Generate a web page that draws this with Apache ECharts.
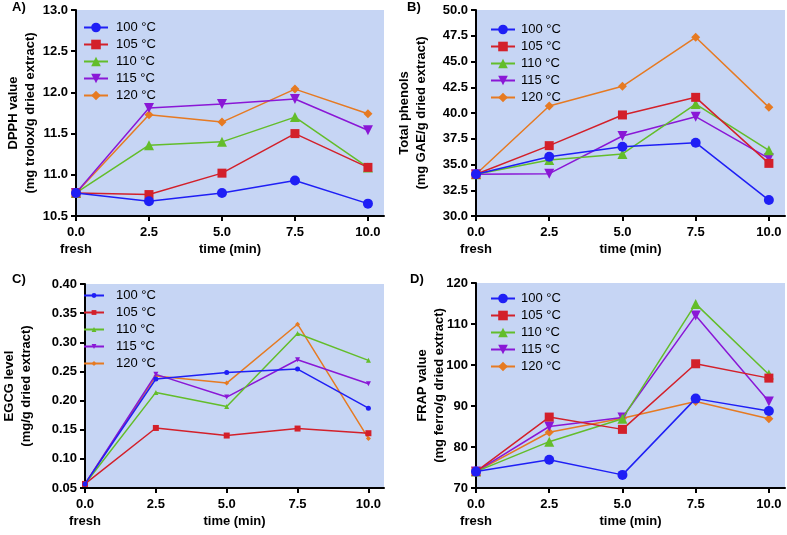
<!DOCTYPE html>
<html><head><meta charset="utf-8">
<script src="https://cdn.jsdelivr.net/npm/echarts@6/dist/echarts.min.js"></script>
<style>html,body{margin:0;padding:0;background:#fff}#c{width:787px;height:535px}</style>
</head><body><div id="c"></div>
<script>
const times = [0, 2.5, 5, 7.5, 10];
const xTicks = [0, 2.5, 5, 7.5, 10];
const temps = ['100 °C', '105 °C', '110 °C', '115 °C', '120 °C'];

// Panel A: DPPH value
const dpph100 = [10.78, 10.68, 10.78, 10.93, 10.65];
const dpph105 = [10.78, 10.76, 11.02, 11.50, 11.09];
const dpph110 = [10.78, 11.36, 11.40, 11.70, 11.09];
const dpph115 = [10.78, 11.81, 11.86, 11.92, 11.54];
const dpph120 = [10.78, 11.73, 11.64, 12.04, 11.74];

// Panel B: Total phenols
const tp100 = [34.05, 35.76, 36.73, 37.12, 31.55];
const tp105 = [34.05, 36.83, 39.81, 41.52, 35.11];
const tp110 = [34.05, 35.44, 36.02, 40.87, 36.38];
const tp115 = [34.05, 34.11, 37.77, 39.64, 35.60];
const tp120 = [34.05, 40.68, 42.59, 47.35, 40.55];

// Panel C: EGCG level
const egcg100 = [0.057, 0.237, 0.248, 0.254, 0.187];
const egcg105 = [0.057, 0.153, 0.140, 0.152, 0.144];
const egcg110 = [0.057, 0.214, 0.190, 0.315, 0.269];
const egcg115 = [0.057, 0.245, 0.206, 0.270, 0.229];
const egcg120 = [0.057, 0.242, 0.230, 0.331, 0.135];

// Panel D: FRAP value
const frap100 = [74.0, 76.9, 73.2, 91.8, 88.8];
const frap105 = [74.0, 87.3, 84.3, 100.3, 96.8];
const frap110 = [74.0, 81.3, 86.9, 114.9, 97.7];
const frap115 = [74.0, 85.0, 87.2, 112.1, 91.1];
const frap120 = [74.0, 83.6, 87.0, 91.1, 86.9];

const panels = [
  {key:'A', data:[dpph100,dpph105,dpph110,dpph115,dpph120], min:10.5, max:13.0, interval:0.5, dec:1,
   name:'DPPH value\n(mg trolox/g dried extract)', nameGap:37,
   grid:{left:76, top:10, width:308, height:206}, legend:{left:83, top:21, w:24, h:12, pad:3}, big:true},
  {key:'B', data:[tp100,tp105,tp110,tp115,tp120], min:30, max:50, interval:2.5, dec:1,
   name:'Total phenols\n(mg GAE/g dried extract)', nameGap:46,
   grid:{left:476, top:10, width:309, height:206}, legend:{left:490, top:23, w:24, h:12, pad:1}, big:true},
  {key:'C', data:[egcg100,egcg105,egcg110,egcg115,egcg120], min:0.05, max:0.40, interval:0.05, dec:2,
   name:'EGCG level\n(mg/g dried extract)', nameGap:50,
   grid:{left:77, top:284, width:307, height:204}, legend:{left:83, top:289, w:20, h:6, pad:7}, big:false},
  {key:'D', data:[frap100,frap105,frap110,frap115,frap120], min:70, max:120, interval:10, dec:0,
   name:'FRAP value\n(mg ferro/g dried extract)', nameGap:28,
   grid:{left:476, top:283, width:309, height:205}, legend:{left:490, top:292, w:24, h:12, pad:1}, big:true}
];

const colors = ['#1f1ff5', '#d3202a', '#63bd2a', '#8a17d6', '#e67a22'];
const symbols = ['circle', 'rect', 'triangle', 'triangle', 'diamond'];
const rotates = [0, 0, 0, 180, 0];
const bigSizes = [10, 9, 10, 10, 9];
const FONT = 'Liberation Sans';

const grids = [], xAxes = [], yAxes = [], legends = [], series = [], titles = [];
const titlePos = [{l:12,t:1},{l:407,t:1},{l:12,t:273},{l:410,t:273}];

panels.forEach((p, i) => {
  grids.push(Object.assign({show:true, backgroundColor:'#c6d5f4', borderWidth:0, containLabel:false}, p.grid));
  xAxes.push({
    type:'value', gridIndex:i, min:0, max:10.55,
    name:'time (min)', nameLocation:'middle', nameGap:27, nameMoveOverlap:false,
    nameTextStyle:{fontFamily:FONT, fontWeight:'bold', fontSize:13, color:'#000'},
    axisLine:{show:true, lineStyle:{color:'#000', width:2}},
    axisTick:{show:true, length:5, lineStyle:{color:'#000', width:2}, customValues:xTicks},
    axisLabel:{customValues:xTicks, fontFamily:FONT, fontWeight:'bold', fontSize:13, color:'#000', margin:8, lineHeight:17,
      formatter: v => v === 0 ? '0.0\nfresh' : v.toFixed(1)},
    splitLine:{show:false}
  });
  yAxes.push({
    type:'value', gridIndex:i, min:p.min, max:p.max, interval:p.interval,
    name:p.name, nameLocation:'middle', nameGap:p.nameGap, nameRotate:90, nameMoveOverlap:false,
    nameTextStyle:{fontFamily:FONT, fontWeight:'bold', fontSize:13, color:'#000', lineHeight:17},
    axisLine:{show:true, onZero:false, lineStyle:{color:'#000', width:2}},
    axisTick:{show:true, length:5, lineStyle:{color:'#000', width:2}},
    axisLabel:{fontFamily:FONT, fontWeight:'bold', fontSize:13, color:'#000', margin:8,
      formatter: v => v.toFixed(p.dec)},
    splitLine:{show:false}
  });
  const names = temps.map(t => p.key + '|' + t);
  legends.push({
    left:p.legend.left, top:p.legend.top, orient:'vertical', padding:0,
    itemWidth:p.legend.w, itemHeight:p.legend.h, itemGap:4,
    data:names,
    formatter: n => n.split('|')[1],
    textStyle:{fontFamily:FONT, fontSize:13, color:'#000', padding:[0,0,0,p.legend.pad], lineHeight:13},
    selectedMode:false
  });
  for (let k = 4; k >= 0; k--) {
    series.push({
      type:'line', name:names[k], xAxisIndex:i, yAxisIndex:i,
      data: times.map((t, j) => [t, p.data[k][j]]),
      symbol:symbols[k], symbolRotate:rotates[k],
      symbolSize: p.big ? bigSizes[k] : (k === 1 ? 6 : 5),
      lineStyle:{color:colors[k], width:1.5},
      itemStyle:{color:colors[k]},
      showSymbol:true, animation:false, z: 2 + (4 - k)
    });
  }
  titles.push({text:p.key + ')', left:titlePos[i].l, top:titlePos[i].t, padding:0,
    textStyle:{fontFamily:FONT, fontWeight:'bold', fontSize:13, color:'#000'}});
});

const chart = echarts.init(document.getElementById('c'), null, {renderer:'canvas'});
chart.setOption({
  animation:false,
  title:titles,
  grid:grids, xAxis:xAxes, yAxis:yAxes, legend:legends, series:series
});
</script>
</body></html>
